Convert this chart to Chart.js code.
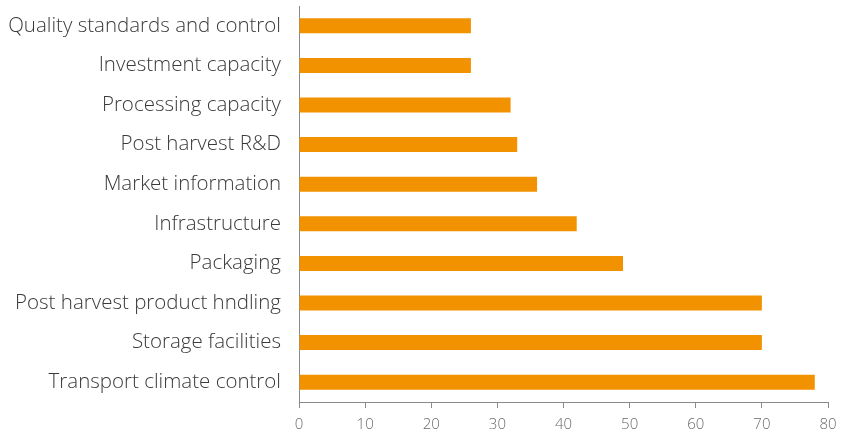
<!DOCTYPE html>
<html>
<head>
<meta charset="utf-8">
<script src="https://cdn.jsdelivr.net/npm/chart.js@4"></script>
<style>
  html, body { margin: 0; padding: 0; background: #fff; }
  #wrap { width: 842px; height: 435px; }
</style>
</head>
<body>
<div id="wrap"><canvas id="barChart"></canvas></div>
<script>
// Categories, top to bottom
const categories = [
    "Quality standards and control",
    "Investment capacity",
    "Processing capacity",
    "Post harvest R&D",
    "Market information",
    "Infrastructure",
    "Packaging",
    "Post harvest product hndling",
    "Storage facilities",
    "Transport climate control"
];
// Bar values
const values = [26, 26, 32, 33, 36, 42, 49, 70, 70, 78];
const xTicks = [0, 10, 20, 30, 40, 50, 60, 70, 80];

const orange = "#F39200";

const ctx = document.getElementById("barChart").getContext("2d");
const myBarChart = new Chart(ctx, {
    type: "bar",
    data: {
        labels: categories,
        datasets: [{
            data: values,
            backgroundColor: orange,
            borderWidth: 0,
            barPercentage: 0.76,
            categoryPercentage: 0.5,
        }],
    },
    options: {
        indexAxis: "y",
        responsive: true,
        maintainAspectRatio: false,
        animation: false,
        layout: { padding: { top: 6, right: 0, left: 0, bottom: 0 } },
        plugins: {
            legend: { display: false },
            tooltip: { enabled: false },
        },
        scales: {
            x: {
                min: 0,
                max: 80,
                afterBuildTicks: function (scale) {
                    scale.ticks = xTicks.map(v => ({ value: v }));
                },
                afterFit: function (scale) {
                    scale.height = 33;
                    scale.paddingLeft = 0;
                    scale.paddingRight = 14;
                },
                border: { display: true, color: "#8a8a8a", width: 1 },
                grid: { drawOnChartArea: false, drawTicks: true, tickLength: 6, color: "#8a8a8a" },
                ticks: { color: "#6a6a6a", font: { family: "Open Sans", size: 15, weight: "300" }, padding: 8, maxRotation: 0 },
            },
            y: {
                afterFit: function (scale) {
                    scale.width = 299;
                    scale.paddingTop = 0;
                    scale.paddingBottom = 0;
                },
                border: { display: true, color: "#8a8a8a", width: 1 },
                grid: { display: false, drawTicks: false },
                ticks: { color: "#3a3a3a", font: { family: "Open Sans", size: 20.5, weight: "300" }, padding: 18, autoSkip: false },
            },
        },
    },
});
</script>
</body>
</html>
